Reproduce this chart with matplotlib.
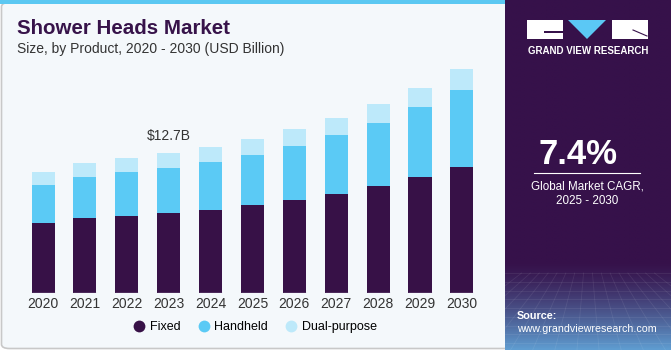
import numpy as np
import matplotlib.pyplot as plt
from matplotlib.patches import FancyBboxPatch, Rectangle, Polygon
from matplotlib.lines import Line2D

# Datos (USD Billion)
years = ['2020', '2021', '2022', '2023', '2024', '2025', '2026', '2027', '2028', '2029', '2030']
fixed = [6.34, 6.79, 7.00, 7.24, 7.57, 7.97, 8.42, 8.99, 9.69, 10.50, 11.46]
handheld = [3.47, 3.77, 3.96, 4.13, 4.34, 4.58, 4.94, 5.34, 5.76, 6.34, 6.97]
dual = [1.18, 1.27, 1.27, 1.33, 1.33, 1.42, 1.48, 1.51, 1.67, 1.72, 1.90]
series_names = ['Fixed', 'Handheld', 'Dual-purpose']
colors = ['#371147', '#5bcaf5', '#bde9fa']

W, H = 671, 350
bg = '#f4f8fb'
purple = '#36114a'

fig = plt.figure(figsize=(W / 100, H / 100), dpi=100)
fig.patch.set_facecolor('white')

# Panel principal
fig.patches.append(FancyBboxPatch((1.5 / W, 1.5 / H), 515 / W, 346 / H,
                                  boxstyle='round,pad=0,rounding_size=0.012',
                                  transform=fig.transFigure, facecolor=bg,
                                  edgecolor='#c8c8c8', linewidth=1.2, zorder=-3))
fig.patches.append(Rectangle((0, (H - 4) / H), 506 / W, 4 / H, transform=fig.transFigure,
                             facecolor='#5bc8f2', edgecolor='none', zorder=-2))

# Panel derecho con degradado
ax_side = fig.add_axes([505 / W, 0, (W - 505) / W, 1])
grad = np.linspace(0, 1, 200)[:, None]
top = np.array([0x36, 0x11, 0x4a]) / 255
bot = np.array([0x5f, 0x9c, 0xd0]) / 255
t = np.clip((grad - 0.75) / 0.25, 0, 1) ** 1.3
img = top * (1 - t) + bot * t
ax_side.imshow(img[:, None, :].repeat(2, axis=1), aspect='auto', extent=[0, 1, 0, 1])
# rejilla tenue abajo
for yy in np.linspace(0.02, 0.22, 9):
    ax_side.plot([0, 1], [yy, yy], color='white', alpha=0.08, linewidth=0.6)
for xx in np.linspace(-0.5, 1.5, 16):
    ax_side.plot([0.5 + (xx - 0.5) * 0.4, xx], [0.22, 0.0], color='white', alpha=0.08, linewidth=0.6)
ax_side.set_xlim(0, 1)
ax_side.set_ylim(0, 1)
ax_side.axis('off')

# Logo
def px(x, y):
    return x / W, 1 - y / H

fig.patches.append(Rectangle(px(527, 39), 36 / W, 19 / H, transform=fig.transFigure,
                             facecolor='white', edgecolor='none', zorder=3))
fig.patches.append(Rectangle(px(544, 33), 19 / W, 2 / H, transform=fig.transFigure,
                             facecolor=purple, edgecolor='none', zorder=4))
fig.patches.append(Polygon([px(568, 20), px(606, 20), px(587, 39)], closed=True,
                           transform=fig.transFigure, facecolor='#5bc8f5', edgecolor='none', zorder=3))
fig.patches.append(Rectangle(px(612, 39), 36 / W, 19 / H, transform=fig.transFigure,
                             facecolor='white', edgecolor='none', zorder=3))
fig.lines.append(Line2D([633 / W, 647 / W], [1 - 30 / H, 1 - 36 / H], transform=fig.transFigure,
                        color=purple, linewidth=0.8, zorder=4))
fig.text(588 / W, 1 - 51 / H, 'GRAND VIEW RESEARCH', color='white', fontsize=7,
         fontweight='bold', ha='center', va='center', family='Liberation Sans')

fig.text(578 / W, 1 - 155 / H, '7.4%', color='white', fontsize=25, fontweight='bold',
         ha='center', va='center', family='Liberation Sans')
fig.lines.append(Line2D([534 / W, 640 / W], [1 - 173 / H, 1 - 173 / H], transform=fig.transFigure,
                        color='white', linewidth=0.8))
fig.text(587 / W, 1 - 186 / H, 'Global Market CAGR,', color='white', fontsize=8.4,
         ha='center', va='center', family='Liberation Sans')
fig.text(587 / W, 1 - 201 / H, '2025 - 2030', color='white', fontsize=8.4,
         ha='center', va='center', family='Liberation Sans')
fig.text(517 / W, 1 - 316 / H, 'Source:', color='white', fontsize=7.8, fontweight='bold',
         ha='left', va='center', family='Liberation Sans')
fig.text(517 / W, 1 - 329 / H, 'www.grandviewresearch.com', color='white', fontsize=7.7,
         ha='left', va='center', family='Liberation Sans')

# Titulo
fig.text(17 / W, 1 - 28 / H, 'Shower Heads Market', color='#37134a', fontsize=14.8,
         fontweight='heavy', ha='left', va='center', family='Liberation Sans')
fig.text(17 / W, 1 - 49 / H, 'Size, by Product, 2020 - 2030 (USD Billion)', color='#333333',
         fontsize=10, ha='left', va='center', family='Liberation Sans')

# Grafico de barras
left, right = 17.9, 487.0
base, topy = 293.3, 50.3
ax = fig.add_axes([left / W, (H - base) / H, (right - left) / W, (base - topy) / H])
ax.set_facecolor('none')
x = np.arange(len(years))
bw = 0.55
bottom = np.zeros(len(years))
for vals, c in zip([fixed, handheld, dual], colors):
    ax.bar(x, vals, width=bw, bottom=bottom, color=c, edgecolor='none')
    bottom += np.array(vals)
# linea fina bajo cada barra
ax.hlines(np.zeros(len(years)), x - bw / 2, x + bw / 2, color='#a898b4', linewidth=1.0, zorder=3)
ax.set_xlim(-0.6, 10.6)
ax.set_ylim(0, 22)
ax.set_xticks(x)
ax.set_xticklabels(years, fontsize=10, color='#333333', family='Liberation Sans')
ax.tick_params(axis='x', length=0, pad=3)
ax.set_yticks([])
for s in ax.spines.values():
    s.set_visible(False)

total23 = fixed[3] + handheld[3] + dual[3]
ax.annotate(f'${total23:.1f}B', (3, total23), xytext=(0, 7), textcoords='offset points',
            ha='center', va='bottom', fontsize=10, color='#333333', family='Liberation Sans')

# Leyenda
handles = [Line2D([], [], marker='o', linestyle='none', markersize=8.5, markerfacecolor=c,
                  markeredgecolor='none') for c in colors]
fig.legend(handles, series_names, loc='center', bbox_to_anchor=(255 / W, 1 - 327 / H), ncol=3,
           frameon=False, handlelength=1.0, handletextpad=0.35, columnspacing=1.35,
           prop={'family': 'Liberation Sans', 'size': 9})

fig.savefig('out.png', dpi=100, facecolor=fig.get_facecolor())
